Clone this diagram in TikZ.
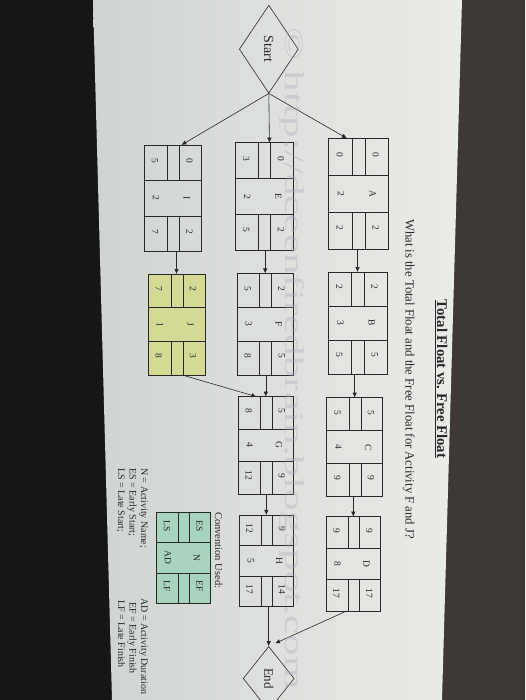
\documentclass[tikz,border=0pt]{standalone}
\usepackage{fontspec}
\setmainfont{Liberation Serif}
\usetikzlibrary{arrows.meta,calc,shapes.geometric}
\definecolor{ink}{RGB}{40,40,42}
\definecolor{pageL}{RGB}{208,212,208}
\definecolor{pageR}{RGB}{234,236,232}
\definecolor{jfill}{RGB}{212,218,150}
\definecolor{cfill}{RGB}{168,212,190}
\definecolor{wmark}{RGB}{170,166,188}
\definecolor{darkL}{RGB}{22,22,25}
\definecolor{darkR}{RGB}{62,56,54}
\tikzset{
  actbox/.style={draw=ink, line width=0.6pt, inner sep=0pt, outer sep=0pt},
  cell/.style={draw=ink, line width=0.5pt},
  val/.style={text=ink, font=\fontsize{9.5}{10}\selectfont, rotate=-90, inner sep=0pt},
  arr/.style={draw=ink, line width=0.6pt, -{Latex[length=5pt,width=4.5pt]}},
  rtext/.style={text=ink, rotate=-90, inner sep=0pt},
  gate/.style={draw=ink, line width=0.6pt, diamond, inner sep=0pt, text=ink},
}
% #1 name, #2 cx, #3 cy, #4 extent along x, #5 extent along y, #6 fill
\newcommand\actbox[6]{%
  \node[actbox, fill=#6, minimum width=#4pt, minimum height=#5pt] (#1) at (#2,#3) {};
  \begin{scope}[shift={(#1.north west)}, x={(#4pt,0pt)}, y={(0pt,-#5pt)}]
    \draw[cell] (0,1/3) -- (1,1/3) (0,2/3) -- (1,2/3)
      (0.40,0) -- (0.40,1/3) (0.61,0) -- (0.61,1/3)
      (0.40,2/3) -- (0.40,1) (0.61,2/3) -- (0.61,1);
    \coordinate (#1-es) at (0.79,0.15);
    \coordinate (#1-n)  at (0.74,0.5);
    \coordinate (#1-ef) at (0.79,0.81);
    \coordinate (#1-ls) at (0.19,0.15);
    \coordinate (#1-ad) at (0.21,0.5);
    \coordinate (#1-lf) at (0.19,0.81);
  \end{scope}}
% #1 name, then ES, N, EF, LS, AD, LF
\newcommand\actvals[7]{%
  \node[val] (#1-vES) at (#1-es) {#2};
  \node[val] (#1-vN)  at (#1-n)  {#3};
  \node[val] (#1-vEF) at (#1-ef) {#4};
  \node[val] (#1-vLS) at (#1-ls) {#5};
  \node[val] (#1-vAD) at (#1-ad) {#6};
  \node[val] (#1-vLF) at (#1-lf) {#7};}
\begin{document}
\begin{tikzpicture}[x=1pt,y=-1pt]
\useasboundingbox (0,0) rectangle (525,700);
% photo background
\fill[darkL] (0,0) rectangle (525,700);
\fill[darkR] (458,0) -- (525,0) -- (525,700) -- (438,700) -- cycle;
\shade[left color=pageL, right color=pageR] (93,0) -- (462,0) -- (442,700) -- (112,700) -- cycle;

% headings
\node[rtext, font=\bfseries\fontsize{14.8}{16}\selectfont, anchor=base] (title) at (437,379) {\underline{Total Float vs.\ Free Float}};
\node[rtext, font=\fontsize{12.7}{14}\selectfont, anchor=base] (question) at (405.5,379) {What is the Total Float and the Free Float for Activity F and J?};

% start / end
\node[gate, minimum width=59pt, minimum height=88pt] (Start) at (268.8,49.2) {\fontsize{14}{15}\selectfont\rotatebox{-90}{Start}};
\node[gate, minimum width=51pt, minimum height=64pt] (End) at (268.7,678.5) {\fontsize{13}{14}\selectfont\rotatebox{-90}{End}};

% activity boxes
\actbox{A}{358.3}{193.8}{60}{111}{none}
\actbox{B}{357.5}{323}{59}{102}{none}
\actbox{C}{354.7}{447.2}{56}{99}{none}
\actbox{D}{353.3}{563.8}{54.7}{94.3}{none}
\actbox{E}{264.2}{196.7}{58.3}{108}{none}
\actbox{F}{265.2}{324.2}{56.5}{101.5}{none}
\actbox{G}{265.8}{445.3}{55}{97.3}{none}
\actbox{H}{266.3}{560.8}{54}{91.7}{none}
\actbox{I}{172.8}{198.3}{57.7}{106.7}{none}
\actbox{J}{176.5}{324.5}{57}{101}{jfill}
\actbox{K}{183.7}{557.8}{54}{91}{cfill}

\actvals{A}{0}{A}{2}{0}{2}{2}
\actvals{B}{2}{B}{5}{2}{3}{5}
\actvals{C}{5}{C}{9}{5}{4}{9}
\actvals{D}{9}{D}{17}{9}{8}{17}
\actvals{E}{0}{E}{2}{3}{2}{5}
\actvals{F}{2}{F}{5}{5}{3}{8}
\actvals{G}{5}{G}{9}{8}{4}{12}
\actvals{H}{9}{H}{14}{12}{5}{17}
\actvals{I}{0}{I}{2}{5}{2}{7}
\actvals{J}{2}{J}{3}{7}{1}{8}
\actvals{K}{ES}{N}{EF}{LS}{AD}{LF}

% connectors
\draw[arr] (Start.south) -- ($(A.north west)!0.31!(A.north east)$);
\draw[arr] (Start.south) -- ($(E.north west)!0.59!(E.north east)$);
\draw[arr] (Start.south) -- ($(I.north west)!0.65!(I.north east)$);
\draw[arr] (A.south -| B.north) -- (B.north);
\draw[arr] (B.south -| C.north) -- (C.north);
\draw[arr] (C.south -| D.north) -- (D.north);
\draw[arr] (E.south -| F.north) -- (F.north);
\draw[arr] (F.south -| G.north) -- (G.north);
\draw[arr] (G.south -| H.north) -- (H.north);
\draw[arr] (I.south -| J.north) -- (J.north);
\draw[arr] ($(J.south west)!0.6!(J.south east)$) -- ($(G.north west)!0.33!(G.north east)$);
\draw[arr] (H.south -| End.north) -- (End.north);
\draw[arr, shorten >=7pt] ($(D.south west)!0.38!(D.south east)$) -- (End.north);

% legend
\node[rtext, font=\fontsize{10.5}{12}\selectfont, anchor=base west] (conv) at (215,512) {Convention Used:};
\node[rtext, font=\fontsize{10}{12}\selectfont, anchor=base west] (lgN)  at (141,468) {N = Activity Name;};
\node[rtext, font=\fontsize{10}{12}\selectfont, anchor=base west] (lgES) at (129.5,468) {ES = Early Start;};
\node[rtext, font=\fontsize{10}{12}\selectfont, anchor=base west] (lgLS) at (118,468) {LS = Late Start;};
\node[rtext, font=\fontsize{10}{12}\selectfont, anchor=base west] (lgAD) at (141,598) {AD = Activity Duration};
\node[rtext, font=\fontsize{10}{12}\selectfont, anchor=base west] (lgEF) at (129.5,602) {EF = Early Finish};
\node[rtext, font=\fontsize{10}{12}\selectfont, anchor=base west] (lgLF) at (118,600) {LF = Late Finish};

% watermark
\node[rtext, text=wmark, text opacity=0.35, anchor=base west, font=\fontsize{27}{30}\selectfont] (wm) at (285,27) {\scalebox{1.6}[1]{\textcopyright\ http://dceenfiredbrain.blogspot.com}};
\end{tikzpicture}
\end{document}
